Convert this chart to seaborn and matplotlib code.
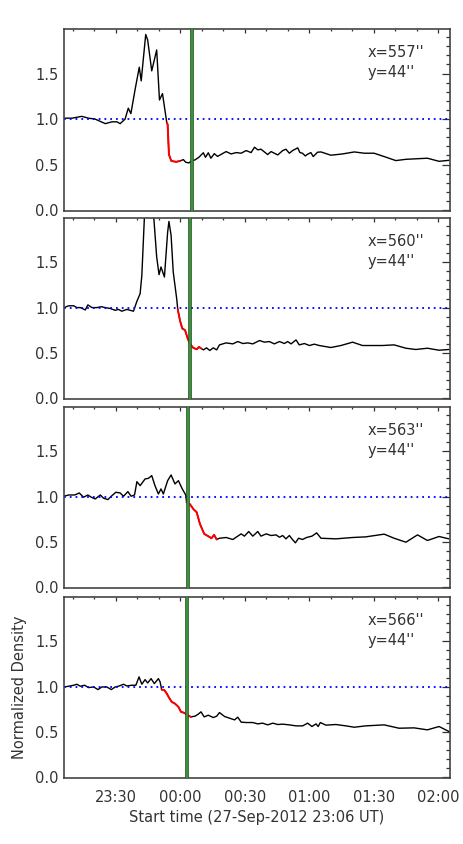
import numpy as np
import pandas as pd
import seaborn as sns
import matplotlib
matplotlib.use('Agg')
import matplotlib.pyplot as plt
from matplotlib.ticker import MultipleLocator, FixedLocator

# time in minutes after 23:06 UT
t1 = [0.3, 3.7, 8.3, 11.4, 14.5, 19.2, 22.3, 24.6, 26.1, 28.4, 29.9, 31.1, 33.1, 35.0, 35.9,
      38.0, 38.9, 40.8, 43.1, 44.4, 45.8, 47.8, 48.2, 48.8, 49.9, 52.2, 53.9, 55.5, 56.6, 58.1,
      59.4, 60.9, 62.7, 64.8, 65.8, 67.1, 68.3, 69.9, 71.4, 75.4, 77.7, 80.1, 82.4, 84.7, 87.0,
      88.6, 90.1, 91.6, 93.2, 94.7, 96.3, 97.8, 99.4, 101.7, 103.2, 104.8, 106.3, 108.7, 109.7,
      110.9, 112.2, 113.3, 114.8, 115.9, 117.9, 119.5, 124.1, 129.5, 135.0, 139.6, 144.2, 148.9,
      154.3, 159.0, 169.0, 174.4, 179.0]
v1 = [1.01, 1.01, 1.03, 1.01, 1.0, 0.95, 0.97, 0.97, 0.95, 1.0, 1.12, 1.06, 1.33, 1.57, 1.42,
      1.93, 1.87, 1.53, 1.76, 1.21, 1.28, 0.96, 0.94, 0.61, 0.54, 0.53, 0.54, 0.555, 0.526, 0.518,
      0.544, 0.551, 0.58, 0.63, 0.58, 0.63, 0.57, 0.62, 0.59, 0.643, 0.617, 0.632, 0.625, 0.654, 0.632,
      0.691, 0.662, 0.669, 0.639, 0.61, 0.643, 0.625, 0.606, 0.654, 0.669, 0.625, 0.654, 0.684, 0.632,
      0.625, 0.595, 0.614, 0.632, 0.588, 0.636, 0.639, 0.603, 0.617, 0.639, 0.625, 0.625, 0.588,
      0.544, 0.558, 0.570, 0.536, 0.547]

t2 = [0, 2.2, 4.5, 6.0, 7.6, 9.9, 11.1, 13.0, 15.3, 17.3, 19.2, 21.5, 23.8, 25.3, 26.9, 29.2,
      30.8, 32.3, 33.9, 35.4, 36.2, 38.5, 40.5, 43.1, 44.2, 45.1, 46.7, 48.2, 48.8, 49.8, 50.8,
      52.4, 52.9, 54.0, 55.0, 56.3, 57.5, 58.6, 60.1, 61.7, 62.8, 63.7, 64.8, 66.3, 67.8, 69.4,
      71.0, 72.3, 75.4, 78.5, 80.8, 83.2, 85.5, 87.8, 90.9, 93.2, 95.5, 97.8, 100.2, 102.5, 104.0,
      105.6, 107.9, 109.4, 111.8, 114.1, 116.4, 118.7, 124.1, 128.8, 134.2, 138.8, 148.1, 153.5,
      159.0, 163.6, 169.0, 174.4, 179.0]
v2 = [1.0, 1.02, 1.02, 1.0, 1.0, 0.974, 1.03, 1.0, 1.0, 1.01, 1.0, 0.99, 0.97, 0.98, 0.96, 0.98,
      0.97, 0.96, 1.07, 1.154, 1.357, 2.6, 2.4, 1.559, 1.364, 1.449, 1.338, 1.835, 1.952, 1.798, 1.393,
      1.099, 0.98, 0.85, 0.77, 0.75, 0.66, 0.60, 0.555, 0.54, 0.565, 0.55, 0.533, 0.555, 0.526, 0.555,
      0.533, 0.588, 0.610, 0.599, 0.625, 0.603, 0.610, 0.599, 0.636, 0.618, 0.625, 0.599, 0.625, 0.603,
      0.625, 0.599, 0.643, 0.588, 0.603, 0.581, 0.596, 0.581, 0.559, 0.581, 0.618, 0.581, 0.581, 0.588,
      0.551, 0.537, 0.551, 0.529, 0.537]

t3 = [0, 2.2, 5.0, 7.1, 9.1, 11.1, 12.7, 14.5, 16.9, 18.4, 20.4, 22.0, 24.1, 26.1, 27.7, 29.7,
      31.2, 32.8, 33.9, 35.4, 37.7, 39.3, 40.8, 42.3, 43.9, 45.1, 46.2, 48.2, 49.8, 51.6, 53.2,
      55.0, 56.6, 57.0, 58.6, 60.1, 61.7, 63.2, 65.2, 67.1, 68.6, 69.8, 71.0, 72.3, 75.4, 78.5,
      80.8, 82.4, 83.9, 85.9, 87.8, 90.1, 91.6, 94.0, 96.3, 98.6, 100.2, 101.7, 103.2, 104.8, 106.0,
      107.6, 109.1, 110.9, 112.8, 115.3, 117.5, 119.5, 126.4, 134.2, 140.3, 148.9, 153.5, 159.0,
      164.4, 169.0, 174.4, 179.0]
v3 = [1.004, 1.018, 1.018, 1.04, 0.993, 1.018, 0.993, 0.974, 1.018, 0.982, 0.967, 1.004, 1.048,
      1.04, 1.004, 1.055, 1.004, 1.018, 1.165, 1.121, 1.195, 1.202, 1.232, 1.121, 1.029, 1.085, 1.029,
      1.176, 1.239, 1.14, 1.176, 1.085, 1.018, 0.938, 0.915, 0.864, 0.827, 0.699, 0.588, 0.562, 0.54,
      0.577, 0.526, 0.540, 0.548, 0.526, 0.563, 0.588, 0.563, 0.614, 0.563, 0.614, 0.563, 0.588, 0.570,
      0.577, 0.551, 0.570, 0.533, 0.570, 0.533, 0.489, 0.540, 0.526, 0.548, 0.563, 0.599, 0.540, 0.533,
      0.548, 0.555, 0.585, 0.540, 0.496, 0.577, 0.515, 0.559, 0.533]

t4 = [0, 2.2, 4.5, 6.0, 7.6, 9.6, 11.4, 13.8, 15.8, 17.6, 19.9, 22.0, 23.8, 25.7, 27.7, 29.2,
      31.5, 33.4, 34.9, 36.2, 37.7, 38.9, 40.5, 42.0, 43.9, 44.7, 45.4, 46.7, 47.8, 48.8, 50.1,
      51.6, 53.2, 54.4, 55.9, 57.5, 59.0, 60.9, 62.4, 63.7, 65.2, 67.1, 69.4, 71.0, 72.3, 74.7,
      77.0, 79.3, 80.8, 82.4, 84.7, 87.8, 90.1, 92.4, 94.7, 97.1, 99.4, 101.7, 104.8, 107.9, 111.0,
      113.3, 115.3, 117.2, 118.2, 119.2, 121.8, 126.4, 131.1, 135.0, 140.3, 148.9, 155.8, 162.8,
      169.0, 174.4, 179.0]
v4 = [0.996, 1.004, 1.015, 1.026, 1.004, 1.015, 0.989, 0.996, 0.967, 0.996, 0.996, 0.967, 0.996,
      1.007, 1.026, 1.007, 1.015, 1.015, 1.107, 1.026, 1.077, 1.04, 1.088, 1.033, 1.088, 1.051, 0.967,
      0.96, 0.923, 0.879, 0.831, 0.812, 0.776, 0.721, 0.71, 0.684, 0.665, 0.673, 0.695, 0.721, 0.665,
      0.684, 0.658, 0.673, 0.713, 0.669, 0.651, 0.632, 0.662, 0.607, 0.603, 0.603, 0.588, 0.596, 0.577,
      0.596, 0.581, 0.585, 0.577, 0.566, 0.566, 0.596, 0.559, 0.588, 0.559, 0.603, 0.574, 0.581, 0.566,
      0.551, 0.566, 0.577, 0.540, 0.544, 0.522, 0.559, 0.504]

times = [t1, t2, t3, t4]
densities = [v1, v2, v3, v4]
red_windows = [(47.8, 53.9), (52.9, 63.7), (57.0, 71.0), (45.4, 59.0)]
green_lines = [59.4, 58.6, 57.8, 57.2]
x_labels = ["x=557''", "x=560''", "x=563''", "x=566''"]
y_label_txt = "y=44''"

tick_pos = [24, 54, 84, 114, 144, 174]
tick_lab = ['23:30', '00:00', '00:30', '01:00', '01:30', '02:00']

sns.set_style("white")
plt.rcParams['font.family'] = ['DejaVu Sans']
plt.rcParams['xtick.direction'] = 'in'
plt.rcParams['ytick.direction'] = 'in'

fig = plt.figure(figsize=(4.63, 8.44), dpi=100)
W, H = 463.0, 844.0
tops = [29, 218, 407, 597]
bottoms = [211, 399, 588, 778]
fs = 10.5
tc = '#333333'

for i in range(4):
    ax = fig.add_axes([64 / W, 1 - bottoms[i] / H, (450 - 64) / W, (bottoms[i] - tops[i]) / H])
    df = pd.DataFrame({'time': times[i], 'density': densities[i]})
    sns.lineplot(data=df, x='time', y='density', color='black', lw=1.0,
                 estimator=None, sort=False, ax=ax)
    r0, r1 = red_windows[i]
    red = df[(df.time >= r0) & (df.time <= r1)]
    sns.lineplot(data=red, x='time', y='density', color='red', lw=1.4,
                 estimator=None, sort=False, ax=ax)
    ax.axhline(1.0, color='blue', ls=(0, (1, 2.2)), lw=1.3)
    ax.axvline(green_lines[i], color='#1e4d1e', lw=2.6, zorder=5)
    ax.axvline(green_lines[i], color='#3c9a3c', lw=1.3, zorder=6)

    ax.set_xlim(0, 179.5)
    ax.set_ylim(-0.01, 1.99)
    ax.xaxis.set_major_locator(FixedLocator(tick_pos))
    ax.xaxis.set_minor_locator(FixedLocator(np.arange(4, 180, 10)))
    ax.yaxis.set_major_locator(FixedLocator([0.0, 0.5, 1.0, 1.5]))
    ax.yaxis.set_minor_locator(MultipleLocator(0.1))
    ax.set_yticklabels(['0.0', '0.5', '1.0', '1.5'], fontsize=fs, color=tc)
    if i == 3:
        ax.set_xticklabels(tick_lab, fontsize=fs, color=tc)
        ax.set_xlabel('Start time (27-Sep-2012 23:06 UT)', fontsize=fs, color=tc, labelpad=3)
        ax.set_ylabel('Normalized Density', fontsize=fs, color=tc, labelpad=6)
    else:
        ax.set_xticklabels([])
        ax.set_xlabel('')
        ax.set_ylabel('')
    ax.tick_params(which='both', top=True, right=True, direction='in', color='#333333', width=0.9)
    ax.tick_params(axis='y', which='major', length=5.8, pad=4)
    ax.tick_params(axis='y', which='minor', length=2.9)
    ax.tick_params(axis='x', which='major', length=3.0, pad=9)
    ax.tick_params(axis='x', which='minor', length=1.6)
    for s in ax.spines.values():
        s.set_color('#444444')
        s.set_linewidth(1.2)

    ax.text(0.787, 0.872, x_labels[i], transform=ax.transAxes, fontsize=fs,
            va='center', ha='left', color=tc)
    ax.text(0.787, 0.762, y_label_txt, transform=ax.transAxes, fontsize=fs,
            va='center', ha='left', color=tc)

fig.savefig('out.png', dpi=100)
